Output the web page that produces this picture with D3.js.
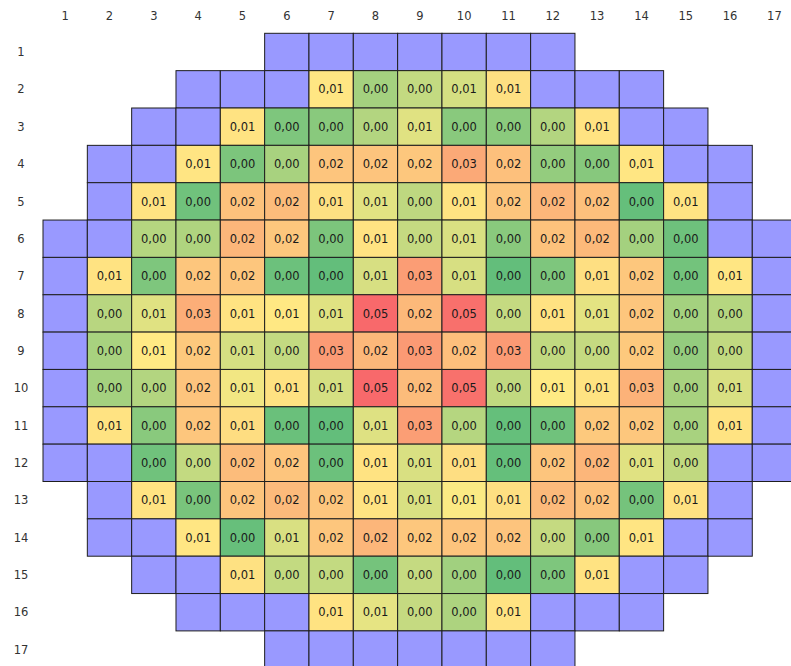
<!DOCTYPE html>
<html>
<head>
<meta charset="utf-8">
<script src="https://cdn.jsdelivr.net/npm/d3@7"></script>
<style>
  html, body { margin: 0; padding: 0; background: #fff; }
  svg { display: block; }
</style>
</head>
<body>
<svg id="chart" width="791" height="666"></svg>
<script>
// Column / row tick labels
const colLabels = d3.range(1, 18).map(String);
const rowLabels = d3.range(1, 18).map(String);

// Layout per row: '.' = no cell, 'p' = empty (purple) cell, 'v' = value cell
const layout = [
  ".....ppppppp.....",
  "...pppvvvvvppp...",
  "..ppvvvvvvvvvpp..",
  ".ppvvvvvvvvvvvpp.",
  ".pvvvvvvvvvvvvvp.",
  "ppvvvvvvvvvvvvvpp",
  "pvvvvvvvvvvvvvvvp",
  "pvvvvvvvvvvvvvvvp",
  "pvvvvvvvvvvvvvvvp",
  "pvvvvvvvvvvvvvvvp",
  "pvvvvvvvvvvvvvvvp",
  "ppvvvvvvvvvvvvvpp",
  ".pvvvvvvvvvvvvvp.",
  ".ppvvvvvvvvvvvpp.",
  "..ppvvvvvvvvvpp..",
  "...pppvvvvvppp...",
  ".....ppppppp....."
];

// Values of the value cells, row by row, left to right (estimated)
const row1 = [];
const row2 = [0.0087, 0.0029, 0.0043, 0.0051, 0.0106];
const row3 = [0.0096, 0.0012, 0.0017, 0.0036, 0.0056, 0.0017, 0.0018, 0.0036, 0.0096];
const row4 = [0.0090, 0.0011, 0.0031, 0.0195, 0.0199, 0.0190, 0.0288, 0.0212, 0.0022, 0.0016, 0.0085];
const row5 = [0.0096, 0.0006, 0.0205, 0.0226, 0.0106, 0.0057, 0.0041, 0.0096, 0.0195, 0.0245, 0.0212, 0.0001, 0.0093];
const row6 = [0.0037, 0.0034, 0.0245, 0.0190, 0.0011, 0.0096, 0.0044, 0.0053, 0.0017, 0.0205, 0.0235, 0.0029, 0.0005];
const row7 = [0.0096, 0.0012, 0.0192, 0.0192, 0.0004, 0.0000, 0.0052, 0.0328, 0.0052, 0.0000, 0.0012, 0.0110, 0.0190, 0.0007, 0.0087];
const row8 = [0.0038, 0.0056, 0.0272, 0.0096, 0.0080, 0.0056, 0.0500, 0.0235, 0.0478, 0.0044, 0.0100, 0.0058, 0.0192, 0.0029, 0.0037];
const row9 = [0.0031, 0.0072, 0.0183, 0.0051, 0.0043, 0.0335, 0.0240, 0.0338, 0.0215, 0.0338, 0.0042, 0.0044, 0.0183, 0.0022, 0.0042];
const row10 = [0.0029, 0.0036, 0.0199, 0.0064, 0.0100, 0.0051, 0.0500, 0.0226, 0.0475, 0.0042, 0.0073, 0.0096, 0.0260, 0.0031, 0.0053];
const row11 = [0.0096, 0.0017, 0.0192, 0.0116, 0.0003, 0.0000, 0.0055, 0.0325, 0.0037, 0.0001, 0.0006, 0.0183, 0.0190, 0.0031, 0.0096];
const row12 = [0.0006, 0.0043, 0.0226, 0.0195, 0.0004, 0.0096, 0.0053, 0.0113, 0.0001, 0.0195, 0.0245, 0.0056, 0.0042];
const row13 = [0.0096, 0.0010, 0.0199, 0.0232, 0.0192, 0.0096, 0.0053, 0.0068, 0.0110, 0.0232, 0.0205, 0.0008, 0.0100];
const row14 = [0.0087, 0.0002, 0.0053, 0.0192, 0.0245, 0.0190, 0.0199, 0.0199, 0.0044, 0.0016, 0.0090];
const row15 = [0.0103, 0.0043, 0.0043, 0.0008, 0.0044, 0.0028, 0.0000, 0.0012, 0.0096];
const row16 = [0.0096, 0.0059, 0.0044, 0.0033, 0.0096];
const row17 = [];
const rowValues = [row1, row2, row3, row4, row5, row6, row7, row8, row9, row10, row11, row12, row13, row14, row15, row16, row17];

// Build the cell table
const cells = [];
layout.forEach((line, r) => {
  let k = 0;
  line.split("").forEach((ch, c) => {
    if (ch === ".") return;
    cells.push({
      row: rowLabels[r],
      col: colLabels[c],
      type: ch,
      value: ch === "v" ? rowValues[r][k++] : null
    });
  });
});

const svg = d3.select("#chart");
const x0 = 43, cw = 44.33, y0 = 33.3, ch = 37.35;

const x = d3.scaleBand().domain(colLabels).range([x0, x0 + cw * colLabels.length]).padding(0);
const y = d3.scaleBand().domain(rowLabels).range([y0, y0 + ch * rowLabels.length]).padding(0);

const color = d3.scaleLinear()
  .domain([0, 0.007, 0.05])
  .range(["#63BE7B", "#FFEB84", "#F8696B"])
  .clamp(true);

const fmt = v => d3.format(".2f")(v).replace(".", ",");

const font = "'DejaVu Sans', Verdana, sans-serif";

// Cells
const g = svg.append("g");
g.selectAll("rect")
  .data(cells)
  .join("rect")
  .attr("x", d => x(d.col))
  .attr("y", d => y(d.row))
  .attr("width", x.bandwidth())
  .attr("height", y.bandwidth())
  .attr("fill", d => d.type === "p" ? "#9999FF" : color(d.value))
  .attr("stroke", "#1e1e1e")
  .attr("stroke-width", 1);

g.selectAll("text")
  .data(cells.filter(d => d.type === "v"))
  .join("text")
  .attr("x", d => x(d.col) + x.bandwidth() / 2)
  .attr("y", d => y(d.row) + y.bandwidth() / 2)
  .attr("dy", "0.36em")
  .attr("text-anchor", "middle")
  .attr("font-family", font)
  .attr("font-size", "11.5px")
  .attr("fill", "#1a1a1a")
  .text(d => fmt(d.value));

// Column labels (top)
svg.append("g").selectAll("text")
  .data(colLabels)
  .join("text")
  .attr("x", d => x(d) + x.bandwidth() / 2)
  .attr("y", 16)
  .attr("dy", "0.36em")
  .attr("text-anchor", "middle")
  .attr("font-family", font)
  .attr("font-size", "11.5px")
  .attr("fill", "#333")
  .text(d => d);

// Row labels (left)
svg.append("g").selectAll("text")
  .data(rowLabels)
  .join("text")
  .attr("x", 21)
  .attr("y", d => y(d) + y.bandwidth() / 2)
  .attr("dy", "0.36em")
  .attr("text-anchor", "middle")
  .attr("font-family", font)
  .attr("font-size", "11.5px")
  .attr("fill", "#333")
  .text(d => d);
</script>
</body>
</html>
